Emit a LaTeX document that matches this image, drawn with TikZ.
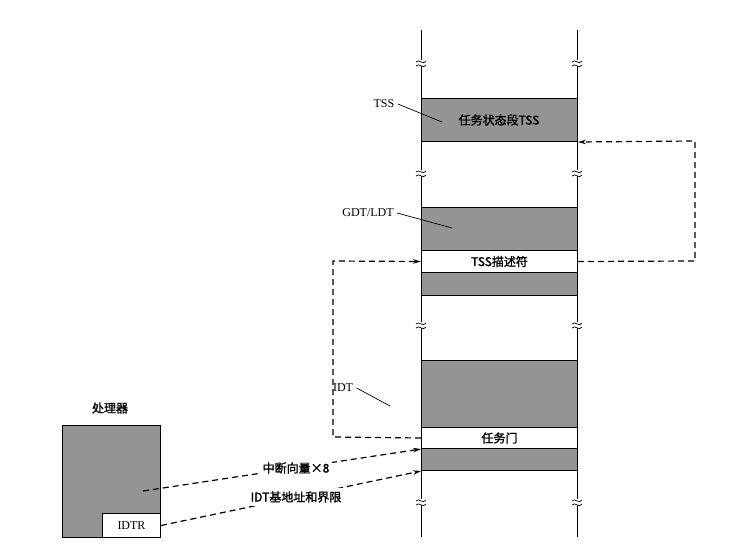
\documentclass[tikz,border=0pt]{standalone}
\usepackage{fontspec}
\setmainfont{Liberation Serif}
\newfontfamily\cjk{Noto Sans CJK SC}[AutoFakeBold=1.5]
\usetikzlibrary{arrows.meta}
\begin{document}
\begin{tikzpicture}[x=1pt,y=-1pt,
  seg/.style={draw,line width=1pt,fill=black!42},
  wseg/.style={draw,line width=1pt,fill=white},
  dline/.style={dash pattern=on 6pt off 4pt,line width=1.2pt},
  arr/.style={dline,-{Stealth[length=8pt,width=4.5pt]}},
  lead/.style={line width=0.7pt},
  lbl/.style={font=\fontsize{12}{14}\selectfont},
  ctxt/.style={font=\cjk\bfseries\fontsize{12}{14}\selectfont}]
\useasboundingbox (0,0) rectangle (745,557);
% memory column
\draw[line width=1pt] (421,30) -- (421,537);
\draw[line width=1pt] (577,30) -- (577,537);
\foreach \yy in {63,173,325,502} {
  \foreach \xx in {421,577} {
    \fill[white] (\xx-4,\yy-3) rectangle (\xx+4,\yy+3);
    \draw[line width=0.7pt] (\xx-5,\yy-1) .. controls (\xx-2,\yy-5) and (\xx+2,\yy+3) .. (\xx+5,\yy-2);
    \draw[line width=0.7pt] (\xx-5,\yy+3) .. controls (\xx-2,\yy-1) and (\xx+2,\yy+7) .. (\xx+5,\yy+2);
  }
}
\node[seg,minimum width=156pt,minimum height=43pt,anchor=north west,inner sep=0] (tss) at (421,98) {};
\node[ctxt] at (499,120) {任务状态段TSS};
\node[seg,minimum width=156pt,minimum height=43pt,anchor=north west,inner sep=0] (gdt) at (421,207) {};
\node[wseg,ctxt,minimum width=156pt,minimum height=22pt,anchor=north west,inner sep=0] (desc) at (421,250) {TSS描述符};
\node[seg,minimum width=156pt,minimum height=23pt,anchor=north west,inner sep=0] (gdtb) at (421,272) {};
\node[seg,minimum width=156pt,minimum height=67pt,anchor=north west,inner sep=0] (idt) at (421,360) {};
\node[wseg,ctxt,minimum width=156pt,minimum height=21pt,anchor=north west,inner sep=0] (gate) at (421,427) {任务门};
\node[seg,minimum width=156pt,minimum height=22pt,anchor=north west,inner sep=0] (idtb) at (421,448) {};
% labels
\node[lbl] (ltss) at (384,104) {TSS};
\draw[lead] (ltss.east) -- (442,122);
\node[lbl] (lgdt) at (368,213) {GDT/LDT};
\draw[lead] (lgdt.east) -- (452,228);
\node[lbl] (lidt) at (343,388) {IDT};
\draw[lead] (lidt.east) -- (390,406);
% processor
\node[ctxt] (plabel) at (110,408) {处理器};
\node[seg,minimum width=98pt,minimum height=112pt,anchor=north west,inner sep=0] (proc) at (62,425) {};
\node[wseg,lbl,minimum width=58pt,minimum height=24pt,anchor=north west,inner sep=0] (idtr) at (102,513) {IDTR};
% dashed connectors
\coordinate (r1) at (695,261);
\coordinate (r2) at (695,141);
\draw[arr] (desc.east) -- (r1) -- (r2) -- (tss.south east);
\coordinate (l1) at (333,437);
\coordinate (l2) at (333,261);
\draw[arr] (gate.west) -- (l1) -- (l2) -- (desc.west);
\coordinate (pv) at (143,491);
\draw[arr] (pv) -- (gate.south west);
\draw[arr] (idtr.east) -- (idtb.south west);
\node[ctxt,fill=white,inner sep=3pt] (lvec) at (296,468) {中断向量×8};
\node[ctxt,fill=white,inner sep=3pt] (lbase) at (296,497) {IDT基地址和界限};
\end{tikzpicture}
\end{document}
